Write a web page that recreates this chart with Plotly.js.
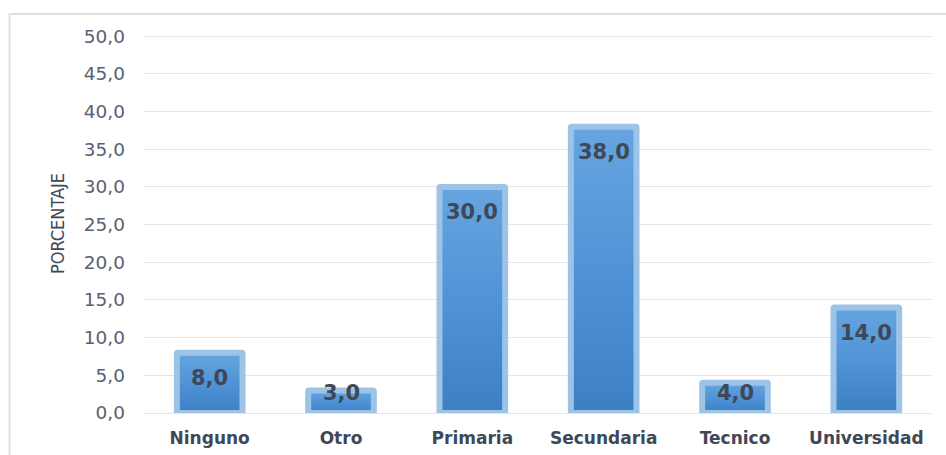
<!DOCTYPE html>
<html>
<head>
<meta charset="utf-8">
<script src="https://cdn.plot.ly/plotly-3.0.1.min.js"></script>
<style>
  html, body { margin: 0; padding: 0; background: #ffffff; }
  #chart { width: 946px; height: 455px; }
</style>
</head>
<body>
<div id="chart"></div>
<script>
// Nivel educativo: porcentaje por categoría
const categories = ['Ninguno', 'Otro', 'Primaria', 'Secundaria', 'Tecnico', 'Universidad'];
const percentages = [8.0, 3.0, 30.0, 38.0, 4.0, 14.0];
const yTickValues = [0, 5, 10, 15, 20, 25, 30, 35, 40, 45, 50];

// Spanish decimal format: one decimal, comma separator
const fmt = v => v.toFixed(1).replace('.', ',');

const barTrace = {
  type: 'bar',
  x: categories,
  y: percentages,
  width: 0.5,
  marker: {
    color: '#4F91D4',
    line: { color: '#9DC3E6', width: 6 },
    cornerradius: 1
  },
  hoverinfo: 'x+y'
};

// Value labels sit inside the top of each bar; short bars keep them just above the base
const labelAnnotations = categories.map((c, i) => ({
  x: c,
  y: Math.max(percentages[i] - 3.2, 2.85),
  xref: 'x', yref: 'y',
  text: fmt(percentages[i]),
  showarrow: false,
  yanchor: 'middle',
  yshift: -1,
  font: { family: 'DejaVu Sans, sans-serif', size: 21, color: '#3F4857', weight: 'bold' }
}));

const layout = {
  width: 946,
  height: 455,
  margin: { l: 144, r: 14, t: 34, b: 42 },
  paper_bgcolor: '#ffffff',
  plot_bgcolor: '#ffffff',
  showlegend: false,
  bargap: 0.5,
  xaxis: {
    type: 'category',
    showgrid: false,
    zeroline: false,
    showline: false,
    ticks: '',
    ticklabelstandoff: 13,
    tickfont: { family: 'DejaVu Sans, sans-serif', size: 17, color: '#3F4857', weight: 'bold' }
  },
  yaxis: {
    range: [0, 50.3],
    tickvals: yTickValues,
    ticktext: yTickValues.map(fmt),
    showgrid: true,
    gridcolor: '#E1E5EC',
    gridwidth: 1,
    zeroline: true,
    zerolinecolor: '#E1E5EC',
    zerolinewidth: 1,
    showline: false,
    ticks: '',
    ticklabelstandoff: 18,
    tickfont: { family: 'DejaVu Sans, sans-serif', size: 18.5, color: '#5A6170' },
    title: {
      text: 'PORCENTAJE',
      standoff: 14,
      font: { family: 'Liberation Sans Narrow, DejaVu Sans Condensed, sans-serif', size: 18, color: '#3F4857' }
    }
  },
  annotations: labelAnnotations,
  shapes: [{
    type: 'rect',
    xref: 'paper', yref: 'paper',
    x0: -0.1706, x1: 1.2,
    y0: -0.3, y1: 1.0528,
    line: { color: '#DCE0E6', width: 2 },
    fillcolor: 'rgba(0,0,0,0)',
    layer: 'below'
  }]
};

// Vertical gradient fill for the bars
function applyBarGradient(gd) {
  const svg = gd.querySelector('.main-svg');
  if (!svg) return;
  let defs = svg.querySelector('defs');
  if (!defs) {
    defs = document.createElementNS('http://www.w3.org/2000/svg', 'defs');
    svg.insertBefore(defs, svg.firstChild);
  }
  if (!svg.querySelector('#barFillGradient')) {
    const g = document.createElementNS('http://www.w3.org/2000/svg', 'linearGradient');
    g.setAttribute('id', 'barFillGradient');
    g.setAttribute('x1', '0'); g.setAttribute('y1', '0');
    g.setAttribute('x2', '0'); g.setAttribute('y2', '1');
    [['0%', '#66A5E0'], ['55%', '#4E91D5'], ['100%', '#3D7FC3']].forEach(([o, c]) => {
      const s = document.createElementNS('http://www.w3.org/2000/svg', 'stop');
      s.setAttribute('offset', o);
      s.setAttribute('stop-color', c);
      g.appendChild(s);
    });
    defs.appendChild(g);
  }
  gd.querySelectorAll('.trace.bars .point path').forEach(p => {
    p.style.fill = 'url(#barFillGradient)';
  });
}

const gd = document.getElementById('chart');
Plotly.newPlot(gd, [barTrace], layout, { displayModeBar: false, staticPlot: true }).then(() => {
  applyBarGradient(gd);
  gd.on('plotly_afterplot', () => applyBarGradient(gd));
});
</script>
</body>
</html>
